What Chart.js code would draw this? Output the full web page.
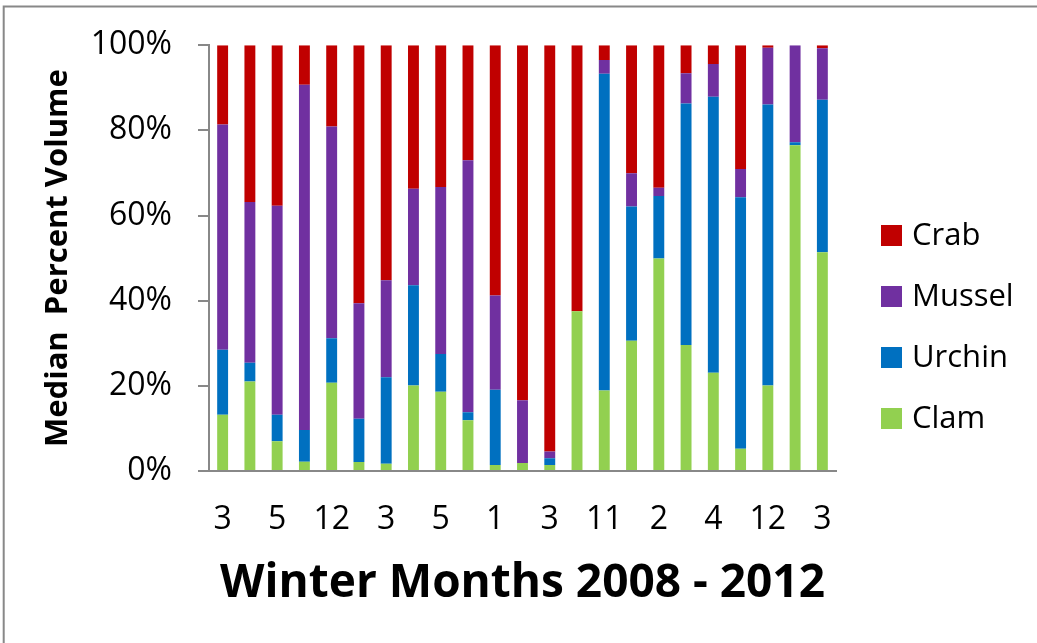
<!DOCTYPE html>
<html>
<head>
<meta charset="utf-8">
<script src="https://cdn.jsdelivr.net/npm/chart.js@4"></script>
<style>
  body { margin: 0; background: #fff; }
  #wrap { width: 1037px; height: 643px; }
</style>
</head>
<body>
<div id="wrap"><canvas id="dietChart" width="1037" height="643"></canvas></div>
<script>
// month labels (only every other bar is labelled in the original)
const months = ['3', '', '5', '', '12', '', '3', '', '5', '', '1', '', '3', '', '11', '', '2', '', '4', '', '12', '', '3'];

// percent volume per prey type, bottom to top of each stack
const clam   = [13.2, 21.0, 7.0, 2.2, 20.7, 2.1, 1.7, 20.1, 18.6, 11.9, 1.4, 1.9, 1.4, 37.5, 18.9, 30.6, 49.9, 29.6, 23.1, 5.2, 20.1, 76.5, 51.4];
const urchin = [15.3, 4.4, 6.2, 7.4, 10.5, 10.2, 20.3, 23.5, 8.9, 1.9, 17.7, 0, 1.6, 0, 74.4, 31.5, 14.7, 56.7, 64.8, 59.1, 66.0, 0.7, 35.8];
const mussel = [52.9, 37.8, 49.1, 81.1, 49.7, 27.1, 22.8, 22.7, 39.2, 59.2, 22.1, 14.7, 1.6, 0, 3.2, 7.8, 1.9, 7.1, 7.7, 6.6, 13.3, 22.8, 12.1];
const crab   = [18.6, 36.8, 37.7, 9.3, 19.1, 60.6, 55.2, 33.7, 33.3, 27.0, 58.8, 83.4, 95.4, 62.5, 3.5, 30.1, 33.5, 6.6, 4.4, 29.1, 0.6, 0, 0.7];

const yTicks = [0, 20, 40, 60, 80, 100];

const FONT = "'Open Sans', sans-serif";
const axisGray = '#888888';

// white background + the thin frame on the top and left edges
const framePlugin = {
    id: 'frame',
    beforeDraw(chart) {
        const ctx = chart.ctx;
        ctx.save();
        ctx.fillStyle = '#ffffff';
        ctx.fillRect(0, 0, chart.width, chart.height);
        ctx.strokeStyle = axisGray;
        ctx.lineWidth = 2;
        ctx.beginPath();
        ctx.moveTo(3.7, chart.height);
        ctx.lineTo(3.7, 6.5);
        ctx.lineTo(chart.width, 6.5);
        ctx.stroke();
        ctx.restore();
    }
};

// legend on the right, top-to-bottom in reverse stack order
const sideLegend = {
    id: 'sideLegend',
    afterDraw(chart) {
        const ctx = chart.ctx;
        const area = chart.chartArea;
        const sets = chart.data.datasets.slice().reverse();
        ctx.save();
        ctx.font = '31px ' + FONT;
        ctx.textBaseline = 'middle';
        ctx.textAlign = 'left';
        sets.forEach((ds, i) => {
            const cy = 235.5 + i * 61;
            ctx.fillStyle = ds.backgroundColor;
            ctx.fillRect(area.right + 45, cy - 10.5, 21, 21);
            ctx.fillStyle = '#000';
            ctx.fillText(ds.label, area.right + 76, cy + 1);
        });
        ctx.restore();
    }
};

const ctx = document.getElementById('dietChart').getContext('2d');
new Chart(ctx, {
    type: 'bar',
    data: {
        labels: months,
        datasets: [
            { label: 'Clam', data: clam, backgroundColor: '#92D050' },
            { label: 'Urchin', data: urchin, backgroundColor: '#0070C0' },
            { label: 'Mussel', data: mussel, backgroundColor: '#7030A0' },
            { label: 'Crab', data: crab, backgroundColor: '#C00000' }
        ]
    },
    options: {
        responsive: false,
        animation: false,
        layout: { padding: { top: 42, right: 201, left: 0, bottom: 0 } },
        datasets: { bar: { barPercentage: 0.4, categoryPercentage: 1.0 } },
        plugins: {
            legend: { display: false },
            tooltip: { enabled: false }
        },
        scales: {
            x: {
                stacked: true,
                grid: { display: false, drawTicks: false },
                border: { display: true, color: axisGray, width: 2 },
                ticks: {
                    autoSkip: false,
                    maxRotation: 0,
                    padding: 30,
                    color: '#000',
                    font: { family: FONT, size: 32 }
                },
                title: {
                    display: true,
                    text: 'Winter Months 2008 - 2012',
                    color: '#000',
                    font: { family: FONT, size: 46, weight: 'bold' },
                    padding: { top: 0, bottom: 32 }
                },
                afterFit(scale) { scale.height = 172; }
            },
            y: {
                stacked: true,
                min: 0,
                max: 100,
                afterBuildTicks(scale) { scale.ticks = yTicks.map(v => ({ value: v })); },
                grid: { display: true, drawOnChartArea: false, drawTicks: true, tickLength: 11, color: axisGray, lineWidth: 2 },
                border: { display: true, color: axisGray, width: 2 },
                ticks: {
                    padding: 26,
                    color: '#000',
                    font: { family: FONT, size: 32 },
                    callback: v => v + '%'
                },
                title: {
                    display: true,
                    text: 'Median  Percent Volume',
                    color: '#000',
                    font: { family: FONT, size: 31, weight: 'bold' },
                    padding: { top: 40, bottom: 0 }
                },
                afterFit(scale) { scale.width = 209; }
            }
        }
    },
    plugins: [framePlugin, sideLegend]
});
</script>
</body>
</html>
